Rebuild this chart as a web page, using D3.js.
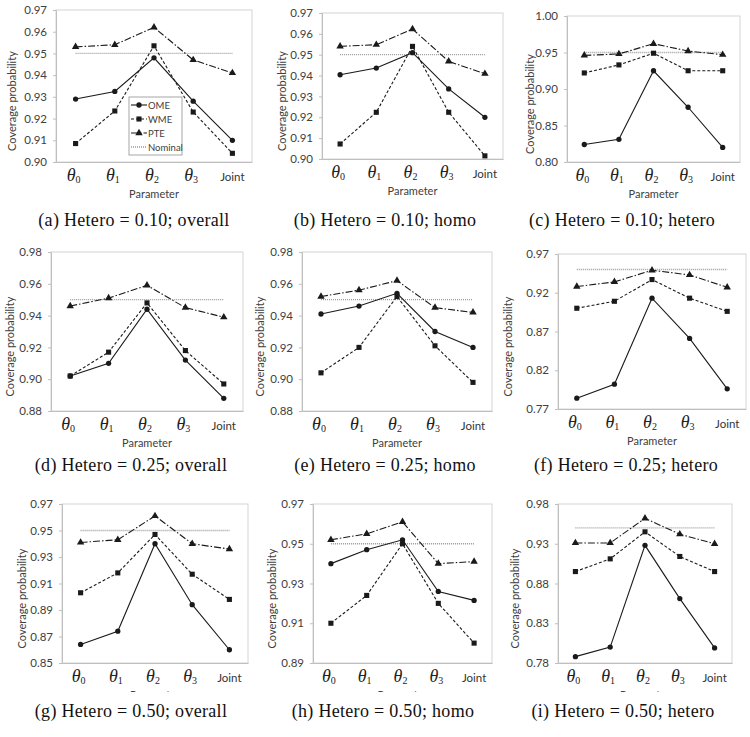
<!DOCTYPE html>
<html>
<head>
<meta charset="utf-8">
<script src="https://cdn.jsdelivr.net/npm/d3@7"></script>
<style>
  body { margin: 0; background: #fff; }
  svg { display: block; }
</style>
</head>
<body>
<svg id="chart" width="750" height="737"></svg>
<script>
/** DATA **/
const categories = ['θ0', 'θ1', 'θ2', 'θ3', 'Joint'];
const captions = [
  '(a) Hetero = 0.10; overall', '(b) Hetero = 0.10; homo', '(c) Hetero = 0.10; hetero',
  '(d) Hetero = 0.25; overall', '(e) Hetero = 0.25; homo', '(f) Hetero = 0.25; hetero',
  '(g) Hetero = 0.50; overall', '(h) Hetero = 0.50; homo', '(i) Hetero = 0.50; hetero'
];
const seriesNames = ['OME', 'WME', 'PTE', 'Nominal'];
const nominal = 0.95;

const yTicks = [
  [0.90, 0.91, 0.92, 0.93, 0.94, 0.95, 0.96, 0.97],
  [0.90, 0.91, 0.92, 0.93, 0.94, 0.95, 0.96, 0.97],
  [0.80, 0.85, 0.90, 0.95, 1.00],
  [0.88, 0.90, 0.92, 0.94, 0.96, 0.98],
  [0.88, 0.90, 0.92, 0.94, 0.96, 0.98],
  [0.77, 0.82, 0.87, 0.92, 0.97],
  [0.85, 0.87, 0.89, 0.91, 0.93, 0.95, 0.97],
  [0.89, 0.91, 0.93, 0.95, 0.97],
  [0.78, 0.83, 0.88, 0.93, 0.98]
];

// one row per panel (a..i), one value per category
const ome = [
  [0.929, 0.9325, 0.948, 0.928, 0.910],
  [0.9404, 0.9436, 0.951, 0.9336, 0.920],
  [0.824, 0.831, 0.925, 0.875, 0.820],
  [0.902, 0.910, 0.944, 0.912, 0.888],
  [0.941, 0.946, 0.954, 0.930, 0.920],
  [0.784, 0.802, 0.913, 0.861, 0.796],
  [0.864, 0.874, 0.940, 0.894, 0.860],
  [0.940, 0.947, 0.952, 0.926, 0.9215],
  [0.788, 0.800, 0.928, 0.861, 0.799]
];
const wme = [
  [0.9085, 0.9235, 0.9535, 0.923, 0.904],
  [0.9072, 0.9224, 0.954, 0.9224, 0.9015],
  [0.922, 0.933, 0.949, 0.925, 0.925],
  [0.902, 0.917, 0.948, 0.918, 0.897],
  [0.904, 0.920, 0.952, 0.921, 0.898],
  [0.900, 0.909, 0.937, 0.913, 0.896],
  [0.903, 0.918, 0.947, 0.917, 0.898],
  [0.910, 0.924, 0.950, 0.920, 0.900],
  [0.895, 0.911, 0.945, 0.914, 0.895]
];
const pte = [
  [0.953, 0.954, 0.962, 0.947, 0.941],
  [0.954, 0.9548, 0.9623, 0.9468, 0.9409],
  [0.946, 0.948, 0.962, 0.952, 0.947],
  [0.946, 0.951, 0.959, 0.945, 0.939],
  [0.952, 0.956, 0.962, 0.945, 0.942],
  [0.928, 0.934, 0.949, 0.943, 0.927],
  [0.941, 0.943, 0.961, 0.940, 0.936],
  [0.952, 0.955, 0.961, 0.940, 0.941],
  [0.931, 0.931, 0.962, 0.942, 0.930]
];

/** LAYOUT **/
// plot area box of each panel, y title x, caption centre, bottom crop of the sub-image
const frames = [
  {l: 56, r: 252, t: 10, b: 162, ty: 12, cx: 134, cy: 226, crop: null},
  {l: 322, r: 503, t: 13, b: 159, ty: 282, cx: 385, cy: 226, crop: null},
  {l: 567, r: 740, t: 16, b: 162, ty: 530, cx: 622, cy: 226, crop: null},
  {l: 51, r: 243, t: 252, b: 411, ty: 10, cx: 131, cy: 471, crop: null},
  {l: 302, r: 492, t: 252, b: 411, ty: 260, cx: 385, cy: 471, crop: null},
  {l: 558, r: 746, t: 254, b: 409, ty: 508, cx: 626, cy: 471, crop: null},
  {l: 62, r: 248, t: 504, b: 663, ty: 22, cx: 131, cy: 717, crop: 692},
  {l: 313, r: 492, t: 504, b: 663, ty: 272, cx: 383, cy: 717, crop: 692},
  {l: 558, r: 732, t: 504, b: 663, ty: 515, cx: 623, cy: 717, crop: 692}
];

const SANS = 'Lato, "Open Sans", sans-serif';
const SERIF = '"Liberation Serif", "DejaVu Serif", serif';
const INK = '#1a1a1a';
const AXIS = '#bfbfbf';

const styles = {
  OME: {dash: null, sym: d3.symbolCircle, size: 22},
  WME: {dash: '3,2', sym: d3.symbolSquare, size: 26},
  PTE: {dash: '7,2,1.5,2', sym: d3.symbolTriangle, size: 24}
};

const svg = d3.select('#chart');
const defs = svg.append('defs');

function drawPanel (i) {
  const f = frames[i];
  const ticks = yTicks[i];
  const g = svg.append('g');

  // bottom rows of the figure were cropped just under the x tick labels
  if (f.crop) {
    defs.append('clipPath').attr('id', 'crop' + i)
      .append('rect').attr('x', 0).attr('y', 0).attr('width', 750).attr('height', f.crop);
    g.attr('clip-path', `url(#crop${i})`);
  }

  const x = d3.scalePoint().domain(categories).range([f.l, f.r]).padding(0.5);
  const y = d3.scaleLinear().domain([ticks[0], ticks[ticks.length - 1]]).range([f.b, f.t]);

  // plot area border
  g.append('rect')
    .attr('x', f.l).attr('y', f.t)
    .attr('width', f.r - f.l).attr('height', f.b - f.t)
    .attr('fill', 'none').attr('stroke', '#d4d4d4').attr('stroke-width', 1);

  // y axis
  const ya = g.append('g')
    .attr('transform', `translate(${f.l},0)`)
    .call(d3.axisLeft(y).tickValues(ticks).tickSize(3).tickPadding(6).tickFormat(d3.format('.2f')));
  ya.select('.domain').attr('stroke', AXIS);
  ya.selectAll('.tick line').attr('stroke', AXIS);
  ya.selectAll('.tick text')
    .attr('fill', '#404040')
    .style('font-family', SANS)
    .style('font-size', '11.5px');

  // x axis
  const xa = g.append('g')
    .attr('transform', `translate(0,${f.b})`)
    .call(d3.axisBottom(x).tickSize(0).tickFormat(''));
  xa.select('.domain').attr('stroke', AXIS);

  categories.forEach(function (c) {
    if (c === 'Joint') {
      g.append('text')
        .attr('x', x(c)).attr('y', f.b + 19)
        .attr('text-anchor', 'middle')
        .style('font-family', SANS).style('font-size', '11.5px')
        .attr('fill', '#333')
        .text(c);
    } else {
      const t = g.append('text')
        .attr('x', x(c) - 2).attr('y', f.b + 19)
        .attr('text-anchor', 'middle')
        .style('font-family', SERIF)
        .attr('fill', '#222');
      t.append('tspan').style('font-style', 'italic').style('font-size', '18px').text('θ');
      t.append('tspan').attr('dy', 2).style('font-size', '10px').text(c.slice(1));
    }
  });

  // axis titles
  g.append('text')
    .attr('x', (f.l + f.r) / 2).attr('y', f.b + 36)
    .attr('text-anchor', 'middle')
    .style('font-family', SANS).style('font-size', '11px')
    .attr('fill', '#404040')
    .text('Parameter');

  g.append('text')
    .attr('transform', `translate(${f.ty + 4},${(f.t + f.b) / 2 + 15}) rotate(-90)`)
    .attr('text-anchor', 'middle')
    .style('font-family', SANS).style('font-size', '11px')
    .attr('fill', '#404040')
    .text('Coverage probability');

  // nominal line
  g.append('line')
    .attr('x1', x(categories[0])).attr('x2', x(categories[4]))
    .attr('y1', y(nominal)).attr('y2', y(nominal))
    .attr('stroke', '#9a9a9a').attr('stroke-width', 1.3)
    .attr('stroke-dasharray', '1,1');

  const line = d3.line()
    .x(function (d, k) { return x(categories[k]); })
    .y(function (d) { return y(d); });

  [['PTE', pte[i]], ['WME', wme[i]], ['OME', ome[i]]].forEach(function (s) {
    const st = styles[s[0]];
    g.append('path')
      .datum(s[1])
      .attr('fill', 'none')
      .attr('stroke', INK)
      .attr('stroke-width', 1.1)
      .attr('stroke-dasharray', st.dash)
      .attr('d', line);
    g.selectAll(null)
      .data(s[1])
      .enter().append('path')
      .attr('transform', function (d, k) { return `translate(${x(categories[k])},${y(d)})`; })
      .attr('d', d3.symbol().type(st.sym).size(st.size))
      .attr('fill', INK);
  });

  // caption
  svg.append('text')
    .attr('x', f.cx).attr('y', f.cy)
    .attr('text-anchor', 'middle')
    .style('font-family', SERIF).style('font-size', '18px')
    .style('letter-spacing', '0.3px')
    .attr('fill', '#111')
    .text(captions[i]);
}

for (let i = 0; i < frames.length; i++) drawPanel(i);

// Handmade legend in panel (a)
const lg = svg.append('g').attr('transform', 'translate(129,97)');
lg.append('rect')
  .attr('width', 53).attr('height', 58)
  .attr('fill', '#fff').attr('stroke', '#a6a6a6');
seriesNames.forEach(function (name, k) {
  const yy = 8 + k * 14;
  const st = styles[name];
  lg.append('line')
    .attr('x1', 2).attr('x2', 18).attr('y1', yy).attr('y2', yy)
    .attr('stroke', name === 'Nominal' ? '#9a9a9a' : INK)
    .attr('stroke-width', name === 'Nominal' ? 1.3 : 1.1)
    .attr('stroke-dasharray', name === 'Nominal' ? '1,1' : st.dash);
  if (st) {
    lg.append('path')
      .attr('transform', `translate(10,${yy})`)
      .attr('d', d3.symbol().type(st.sym).size(st.size))
      .attr('fill', INK);
  }
  lg.append('text')
    .attr('x', 19).attr('y', yy + 3.5)
    .style('font-family', SANS).style('font-size', '9.5px')
    .attr('fill', '#404040')
    .text(name);
});
</script>
</body>
</html>
